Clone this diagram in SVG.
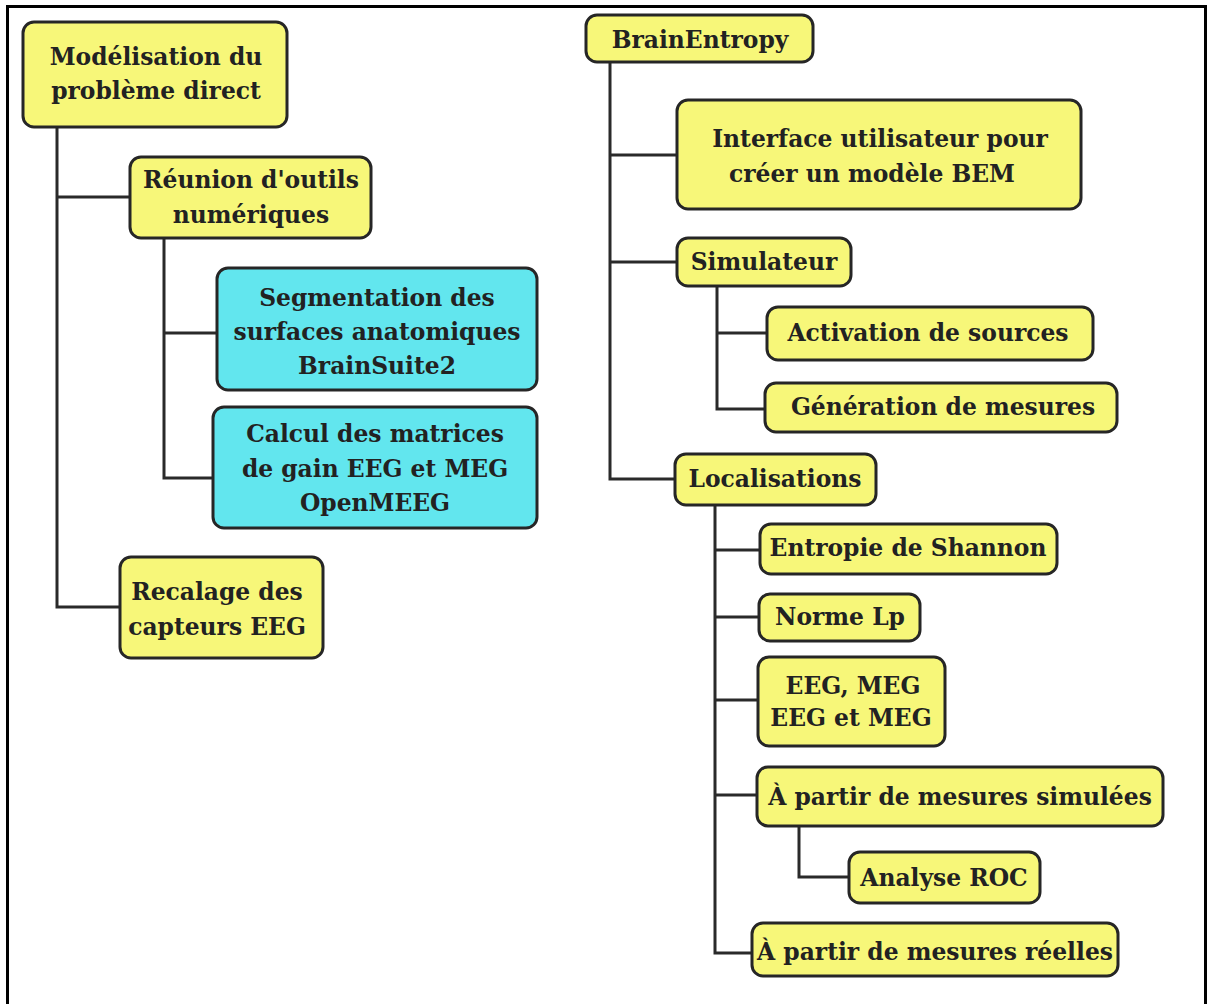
<svg xmlns="http://www.w3.org/2000/svg" width="1208" height="1004" viewBox="0 0 1208 1004">
<style>
.y{fill:#f7f779;stroke:#262626;stroke-width:3}
.c{fill:#62e6ee;stroke:#262626;stroke-width:3}
.t{font-family:"DejaVu Serif","Liberation Serif",serif;font-weight:bold;font-size:23.4px;fill:#222;text-anchor:middle}
.l{stroke:#2a2a2a;stroke-width:3;fill:none}
</style>
<rect x="0" y="0" width="1208" height="1004" fill="#fff"/>
<rect x="7.5" y="6.5" width="1198" height="1010" fill="none" stroke="#000" stroke-width="3"/>
<g id="connectors">
<path class="l" d="M57 127V607H120M57 197H130"/>
<path class="l" d="M164 238V478H213M164 333H217"/>
<path class="l" d="M610 62V479H675M610 155H677M610 262H677"/>
<path class="l" d="M717 286V409H765M717 333H767"/>
<path class="l" d="M715 505V953H752M715 550H760M715 617H759M715 700H758M715 795H757"/>
<path class="l" d="M799 826V877H849"/>
</g>
<g id="n1"><rect class="y" x="23" y="22" width="264" height="105" rx="11"/><text class="t" x="156" y="65">Modélisation du</text><text class="t" x="156" y="99">problème direct</text></g>
<g id="n2"><rect class="y" x="130" y="157" width="241" height="81" rx="11"/><text class="t" x="251" y="188">Réunion d'outils</text><text class="t" x="251" y="223">numériques</text></g>
<g id="n3"><rect class="c" x="217" y="268" width="320" height="122" rx="11"/><text class="t" x="377" y="306">Segmentation des</text><text class="t" x="377" y="340">surfaces anatomiques</text><text class="t" x="377" y="374">BrainSuite2</text></g>
<g id="n4"><rect class="c" x="213" y="407" width="324" height="121" rx="11"/><text class="t" x="375" y="442">Calcul des matrices</text><text class="t" x="375" y="477">de gain EEG et MEG</text><text class="t" x="375" y="511">OpenMEEG</text></g>
<g id="n5"><rect class="y" x="120" y="557" width="203" height="101" rx="11"/><text class="t" x="217" y="600">Recalage des</text><text class="t" x="217" y="635">capteurs EEG</text></g>
<g id="n6"><rect class="y" x="586" y="15" width="227" height="47" rx="11"/><text class="t" x="700" y="48">BrainEntropy</text></g>
<g id="n7"><rect class="y" x="677" y="100" width="404" height="109" rx="11"/><text class="t" x="880" y="147">Interface utilisateur pour</text><text class="t" x="872" y="182">créer un modèle BEM</text></g>
<g id="n8"><rect class="y" x="677" y="238" width="174" height="48" rx="11"/><text class="t" x="764" y="270">Simulateur</text></g>
<g id="n9"><rect class="y" x="767" y="307" width="326" height="53" rx="11"/><text class="t" x="928" y="341">Activation de sources</text></g>
<g id="n10"><rect class="y" x="765" y="383" width="352" height="49" rx="11"/><text class="t" x="943" y="415">Génération de mesures</text></g>
<g id="n11"><rect class="y" x="675" y="454" width="201" height="51" rx="11"/><text class="t" x="775" y="487">Localisations</text></g>
<g id="n12"><rect class="y" x="760" y="524" width="297" height="50" rx="11"/><text class="t" x="908" y="556">Entropie de Shannon</text></g>
<g id="n13"><rect class="y" x="759" y="594" width="161" height="47" rx="11"/><text class="t" x="840" y="625">Norme Lp</text></g>
<g id="n14"><rect class="y" x="758" y="657" width="187" height="89" rx="11"/><text class="t" x="853" y="694">EEG, MEG</text><text class="t" x="851" y="726">EEG et MEG</text></g>
<g id="n15"><rect class="y" x="757" y="767" width="406" height="59" rx="11"/><text class="t" x="960" y="805">À partir de mesures simulées</text></g>
<g id="n16"><rect class="y" x="849" y="852" width="191" height="51" rx="11"/><text class="t" x="944" y="886">Analyse ROC</text></g>
<g id="n17"><rect class="y" x="752" y="923" width="366" height="53" rx="11"/><text class="t" x="935" y="960">À partir de mesures réelles</text></g>
</svg>
